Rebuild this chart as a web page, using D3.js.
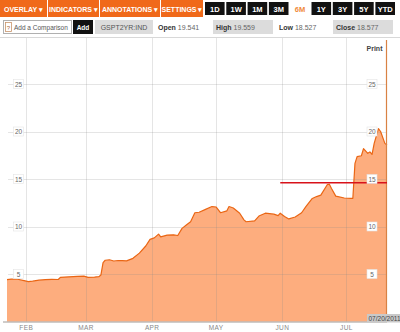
<!DOCTYPE html>
<html>
<head>
<meta charset="utf-8">
<script src="https://cdn.jsdelivr.net/npm/d3@7"></script>
<style>
  body { margin: 0; background: #fff; }
  svg { display: block; font-family: "Liberation Sans", Arial, sans-serif; }
</style>
</head>
<body>
<div id="chart"></div>
<script>
// ---- data ----
const menuLabels = ["OVERLAY \u25BE", "INDICATORS \u25BE", "ANNOTATIONS \u25BE", "SETTINGS \u25BE"];
const rangeLabels = ["1D", "1W", "1M", "3M", "6M", "1Y", "3Y", "5Y", "YTD"];
const activeRange = "6M";
const symbol = "GSPT2YR:IND";
const quoteNames = ["Open", "High", "Low", "Close"];
const quoteValues = ["19.541", "19.559", "18.527", "18.577"];
const lastDateLabel = "07/20/2011";

const dates = [
  "2011-01-23","2011-01-25","2011-01-28","2011-01-31","2011-02-02","2011-02-04","2011-02-07","2011-02-10",
  "2011-02-13","2011-02-16","2011-02-17","2011-02-21","2011-02-25","2011-02-28","2011-03-02","2011-03-05",
  "2011-03-07","2011-03-08","2011-03-09","2011-03-10","2011-03-12","2011-03-14","2011-03-16","2011-03-18",
  "2011-03-20","2011-03-23","2011-03-26","2011-03-29","2011-03-31","2011-04-02","2011-04-04","2011-04-05",
  "2011-04-08","2011-04-11","2011-04-13","2011-04-15","2011-04-17","2011-04-19","2011-04-21","2011-04-23",
  "2011-04-26","2011-04-29","2011-05-01","2011-05-03","2011-05-06","2011-05-07","2011-05-09","2011-05-12",
  "2011-05-14","2011-05-15","2011-05-19","2011-05-21","2011-05-24","2011-05-28","2011-05-30","2011-05-31",
  "2011-06-02","2011-06-04","2011-06-07","2011-06-10","2011-06-12","2011-06-15","2011-06-17","2011-06-19",
  "2011-06-22","2011-06-23","2011-06-24","2011-06-26","2011-06-30","2011-07-03","2011-07-04","2011-07-05",
  "2011-07-06","2011-07-08","2011-07-09","2011-07-11","2011-07-12","2011-07-13","2011-07-14","2011-07-16",
  "2011-07-17","2011-07-19","2011-07-20"
];
const yields = [
  4.40, 4.47, 4.45, 4.30, 4.20, 4.25, 4.35, 4.40,
  4.44, 4.42, 4.65, 4.70, 4.74, 4.78, 4.65, 4.68,
  4.72, 4.90, 6.20, 6.45, 6.50, 6.37, 6.42, 6.40,
  6.38, 6.65, 7.20, 7.95, 8.65, 8.80, 9.20, 8.90,
  9.10, 9.12, 9.05, 9.80, 10.15, 10.50, 11.45, 11.50,
  11.80, 12.10, 12.05, 11.45, 11.65, 12.10, 11.95, 11.40,
  10.70, 10.50, 10.60, 11.10, 11.40, 11.30, 11.15, 11.40,
  11.05, 10.80, 11.00, 11.45, 12.10, 12.95, 13.15, 13.30,
  14.40, 14.45, 14.00, 13.20, 13.00, 12.97, 12.97, 16.65,
  17.35, 17.45, 18.20, 17.70, 17.85, 17.60, 18.75, 20.30,
  20.00, 18.75, 18.58
];
const yTicks = [5, 10, 15, 20, 25];
const monthTicks = ["2011-02-01","2011-03-01","2011-04-01","2011-05-01","2011-06-01","2011-07-01"];
const monthNames = ["FEB","MAR","APR","MAY","JUN","JUL"];
const annotationLevel = 14.6;
const annotationStart = "2011-05-31";

// ---- layout ----
const W = 400, H = 332;
const plot = { left: 7, right: 386, top: 38, bottom: 321.5 };
const parse = d3.timeParse("%Y-%m-%d");
const series = dates.map((d, i) => ({ date: parse(d), value: yields[i] }));

const svg = d3.select("#chart").append("svg").attr("width", W).attr("height", H);
svg.append("rect").attr("width", W).attr("height", H).attr("fill", "#fff");

// header: menu buttons
const menuEdges = [[0, 47], [48, 99], [100, 160], [161, 203]];
const menu = svg.append("g");
menu.selectAll("rect").data(menuLabels).enter().append("rect")
  .attr("x", (d, i) => menuEdges[i][0]).attr("y", 0)
  .attr("width", (d, i) => menuEdges[i][1] - menuEdges[i][0]).attr("height", 17)
  .attr("fill", "#f0691a");
menu.selectAll("text").data(menuLabels).enter().append("text")
  .attr("x", (d, i) => (menuEdges[i][0] + menuEdges[i][1]) / 2).attr("y", 11.5)
  .attr("text-anchor", "middle").attr("fill", "#fff")
  .style("font-size", "7px").style("font-weight", "bold")
  .text(d => d);

// header: range buttons
const rx = d3.scaleBand().domain(rangeLabels).range([205, 395]).paddingInner(0.08);
const rg = svg.append("g");
rg.selectAll("rect").data(rangeLabels).enter().append("rect")
  .attr("x", d => rx(d)).attr("y", 2).attr("width", rx.bandwidth()).attr("height", 13)
  .attr("fill", d => d === activeRange ? "#fff" : "#111");
rg.selectAll("text").data(rangeLabels).enter().append("text")
  .attr("x", d => rx(d) + rx.bandwidth() / 2).attr("y", 11.5)
  .attr("text-anchor", "middle")
  .attr("fill", d => d === activeRange ? "#f08a3a" : "#fff")
  .style("font-size", "7.5px").style("font-weight", "bold")
  .text(d => d);

// second row
const row = svg.append("g");
row.append("rect").attr("x", 3.5).attr("y", 20.5).attr("width", 68).attr("height", 13)
  .attr("fill", "#fff").attr("stroke", "#b0b0b0");
row.append("rect").attr("x", 5.5).attr("y", 22.5).attr("width", 6).attr("height", 9)
  .attr("fill", "#fff").attr("stroke", "#c9956a").attr("stroke-width", 0.8);
row.append("text").attr("x", 8.5).attr("y", 29.5).attr("text-anchor", "middle")
  .attr("fill", "#a86a3a").style("font-size", "6px").text("?");
row.append("text").attr("x", 14).attr("y", 30).attr("fill", "#555")
  .style("font-size", "6.5px").text("Add a Comparison");
row.append("rect").attr("x", 73).attr("y", 20).attr("width", 20).attr("height", 14).attr("fill", "#111");
row.append("text").attr("x", 83).attr("y", 30).attr("text-anchor", "middle").attr("fill", "#fff")
  .style("font-size", "6.5px").style("font-weight", "bold").text("Add");
row.append("rect").attr("x", 95).attr("y", 20).attr("width", 58).attr("height", 14).attr("fill", "#dcdcdc");
row.append("text").attr("x", 124).attr("y", 30).attr("text-anchor", "middle").attr("fill", "#555")
  .style("font-size", "7px").text(symbol);

const quoteBoxes = [[155, 205, false], [213, 273, true], [276, 320, false], [333, 393, true]];
quoteNames.forEach((name, i) => {
  const b = quoteBoxes[i];
  if (b[2]) row.append("rect").attr("x", b[0]).attr("y", 20).attr("width", b[1] - b[0]).attr("height", 14).attr("fill", "#dcdcdc");
  const t = row.append("text").attr("x", b[0] + 3).attr("y", 30).attr("fill", "#333").style("font-size", "7px");
  t.append("tspan").style("font-weight", "bold").text(name + " ");
  t.append("tspan").attr("fill", "#666").text(quoteValues[i]);
});

svg.append("line").attr("x1", 0).attr("x2", W).attr("y1", 37.5).attr("y2", 37.5).attr("stroke", "#d8d8d8");

// scales
const x = d3.scaleTime().domain([parse("2011-01-23"), parse("2011-07-20")]).range([plot.left, plot.right + 1]);
const y = d3.scaleLinear().domain([0, 25]).range([plot.bottom, 84]);

// area + line
const area = d3.area().x(d => x(d.date)).y0(plot.bottom).y1(d => y(d.value));
const line = d3.line().x(d => x(d.date)).y(d => y(d.value));
svg.append("path").datum(series).attr("d", area).attr("fill", "#fdad7e");

// grid drawn on top, faint
const grid = svg.append("g").attr("stroke", "#8a8a8a").attr("stroke-opacity", 0.22);
grid.selectAll("line.h").data(yTicks).enter().append("line")
  .attr("x1", 8).attr("x2", plot.right).attr("y1", d => Math.round(y(d)) + 0.5).attr("y2", d => Math.round(y(d)) + 0.5);
grid.selectAll("line.v").data(monthTicks).enter().append("line")
  .attr("x1", d => Math.round(x(parse(d))) + 0.5).attr("x2", d => Math.round(x(parse(d))) + 0.5)
  .attr("y1", plot.top).attr("y2", plot.bottom);

svg.append("path").datum(series).attr("d", line)
  .attr("fill", "none").attr("stroke", "#ea6614").attr("stroke-width", 1.2).attr("stroke-linejoin", "round");

// right border & bottom line
svg.append("line").attr("x1", plot.right + 0.5).attr("x2", plot.right + 0.5).attr("y1", plot.top + 2).attr("y2", plot.bottom)
  .attr("stroke", "#d98244").attr("stroke-width", 1.2);
svg.append("line").attr("x1", 3).attr("x2", plot.right + 1).attr("y1", 322).attr("y2", 322)
  .attr("stroke", "#a09a96").attr("stroke-width", 1);

// annotation line
svg.append("line")
  .attr("x1", x(parse(annotationStart))).attr("x2", plot.right + 1)
  .attr("y1", y(annotationLevel)).attr("y2", y(annotationLevel))
  .attr("stroke", "#d8121a").attr("stroke-width", 1.6);

// y labels, left and right
[18.5, 372].forEach(cx => {
  const g = svg.append("g");
  g.selectAll("rect").data(yTicks).enter().append("rect")
    .attr("x", cx - 5).attr("y", d => y(d) - 4.5).attr("width", 10).attr("height", 9)
    .attr("fill", "#fff").attr("stroke", "#e4e4e4").attr("stroke-width", 0.6);
  g.selectAll("text").data(yTicks).enter().append("text")
    .attr("x", cx).attr("y", d => y(d) + 2.5).attr("text-anchor", "middle")
    .attr("fill", "#666").style("font-size", "6.5px")
    .text(d => d);
});

// month labels
svg.append("g").selectAll("text").data(monthTicks).enter().append("text")
  .attr("x", d => x(parse(d))).attr("y", 329.5).attr("text-anchor", "middle")
  .attr("fill", "#888").style("font-size", "6.5px").style("letter-spacing", "0.4px")
  .text((d, i) => monthNames[i]);

// last date tag
svg.append("rect").attr("x", 367).attr("y", 314).attr("width", 33).attr("height", 8.5).attr("fill", "#c9c9c9");
svg.append("text").attr("x", 368.5).attr("y", 320.5).attr("fill", "#444").style("font-size", "6.5px").text(lastDateLabel);

// print link
svg.append("text").attr("x", 374.5).attr("y", 51).attr("text-anchor", "middle")
  .attr("fill", "#444").style("font-size", "7px").style("font-weight", "bold").text("Print");
</script>
</body>
</html>
